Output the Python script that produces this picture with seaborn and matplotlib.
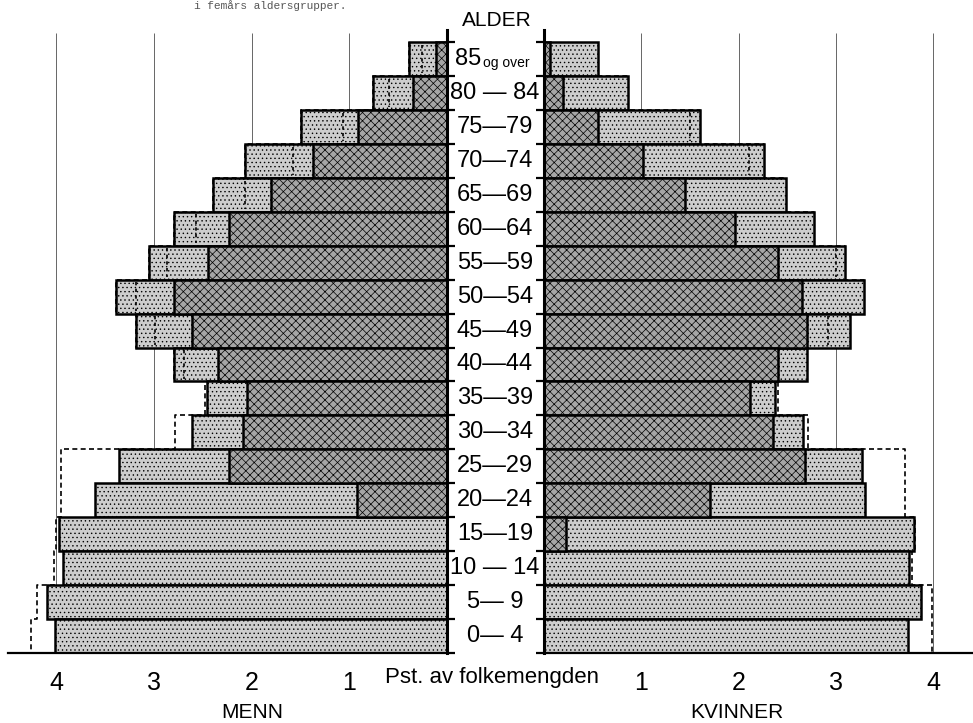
import numpy as np
import matplotlib
matplotlib.use("Agg")
import matplotlib.pyplot as plt
import matplotlib.transforms as mtransforms
import seaborn as sns

# ------------------------------------------------------
# Data (percent of population), top row = oldest group
# ------------------------------------------------------
age_groups = ["85+", "80-84", "75-79", "70-74", "65-69", "60-64", "55-59", "50-54",
              "45-49", "40-44", "35-39", "30-34", "25-29", "20-24", "15-19",
              "10-14", "5-9", "0-4"]
age_labels = ["85", "80 \u2014 84", "75\u201479", "70\u201474", "65\u201469", "60\u201464",
              "55\u201459", "50\u201454", "45\u201449", "40\u201444", "35\u201439", "30\u201434",
              "25\u201429", "20\u201424", "15\u201419", "10 \u2014 14", "5\u2014 9", "0\u2014 4"]

men_total = [0.39, 0.76, 1.49, 2.07, 2.39, 2.79, 3.05, 3.39, 3.18, 2.79,
             2.46, 2.61, 3.36, 3.60, 3.97, 3.93, 4.09, 4.01]
men_dark = [0.11, 0.35, 0.91, 1.37, 1.80, 2.23, 2.45, 2.79, 2.61, 2.34,
            2.05, 2.09, 2.23, 0.92, 0.0, 0.0, 0.0, 0.0]
men_prev = [0.39, 0.76, 1.49, 2.07, 2.39, 2.79, 3.05, 3.39, 3.18, 2.79,
            2.48, 2.78, 3.95, 3.95, 4.00, 4.02, 4.20, 4.26]
men_inner = [0.26, 0.59, 1.06, 1.58, 2.07, 2.57, 2.87, 3.18, 2.99, 2.69,
             np.nan, np.nan, np.nan, np.nan, np.nan, np.nan, np.nan, np.nan]

women_total = [0.55, 0.86, 1.60, 2.26, 2.49, 2.78, 3.09, 3.29, 3.14, 2.70,
               2.37, 2.66, 3.27, 3.30, 3.80, 3.75, 3.87, 3.74]
women_dark = [0.06, 0.20, 0.55, 1.02, 1.45, 1.96, 2.40, 2.65, 2.70, 2.40,
              2.12, 2.35, 2.68, 1.71, 0.23, 0.0, 0.0, 0.0]
women_prev = [0.55, 0.86, 1.60, 2.26, 2.49, 2.78, 3.09, 3.29, 3.14, 2.70,
              2.40, 2.71, 3.71, 3.71, 3.81, 3.78, 3.99, 3.99]
women_inner = [np.nan, np.nan, 1.50, 2.11, np.nan, np.nan, 3.00, np.nan, 2.92, np.nan,
               np.nan, np.nan, np.nan, np.nan, np.nan, np.nan, np.nan, np.nan]

x_ticks = [0, 1, 2, 3, 4]
x_tick_labels = ["", "1", "2", "3", "4"]

LIGHT = "#cdcdcd"
DARK = "#a6a6a6"

sns.set_style("white")
plt.rcParams["font.family"] = ["Liberation Sans", "DejaVu Sans"]
plt.rcParams["text.color"] = "black"
plt.rcParams["xtick.color"] = "black"
plt.rcParams["ytick.color"] = "black"
plt.rcParams["axes.edgecolor"] = "black"
plt.rcParams["hatch.linewidth"] = 0.5

W, H = 973, 723
fig = plt.figure(figsize=(W / 100, H / 100), dpi=100)

def fx(px):
    return px / W

ax_bottom = (H - 653) / H
ax_height = (653 - 30) / H
axL = fig.add_axes([fx(8), ax_bottom, fx(447 - 8), ax_height])
axR = fig.add_axes([fx(544), ax_bottom, fx(973 - 544), ax_height])


def draw_panel(ax, total, dark, prev, inner, xmax, side):
    ax.vlines([1, 2, 3, 4], 17.5, -0.78, color="#666666", lw=0.7, zorder=0.2)

    # dashed outline of the comparison year
    xs, ys = [], []
    for k, v in enumerate(prev):
        xs += [v, v]
        ys += [k - 0.5, k + 0.5]
    ax.plot(xs, ys, ls=(0, (3, 2)), color="black", lw=1.2, zorder=0.5)

    sns.barplot(x=total, y=age_groups, order=age_groups, orient="h", width=1,
                color=LIGHT, saturation=1, edgecolor="black", linewidth=1.8, ax=ax)
    sns.barplot(x=dark, y=age_groups, order=age_groups, orient="h", width=1,
                color=DARK, saturation=1, edgecolor="black", linewidth=1.8, ax=ax)
    for p in ax.patches[:len(total)]:
        p.set_hatch("....")
    for p in ax.patches[len(total):]:
        p.set_hatch("xxxx")

    for k, v in enumerate(inner):
        if not np.isnan(v):
            ax.vlines(v, k - 0.42, k + 0.42, color="black", lw=1.2,
                      linestyles=(0, (2, 2)), zorder=5)

    ax.set_ylim(17.5, -0.854)
    ax.set_yticks(np.arange(-0.5, 18, 1))
    ax.set_yticklabels([])
    ax.set_ylabel("")
    ax.set_xlabel("")
    ax.set_xticks(x_ticks)
    ax.set_xticklabels(x_tick_labels, fontsize=18)
    ax.set_xticks(np.arange(0.5, 4.5, 1), minor=True)
    ax.tick_params(axis="x", which="major", direction="out", length=9, width=1.4, pad=4)
    ax.tick_params(axis="x", which="minor", direction="out", length=6, width=1.2)
    ax.tick_params(axis="y", direction="out", length=6, width=1.6)
    for s in ax.spines.values():
        s.set_visible(False)
    ax.spines["bottom"].set_visible(True)
    ax.spines["bottom"].set_linewidth(1.6)
    ax.spines[side].set_visible(True)
    ax.spines[side].set_linewidth(2.2)
    if side == "right":
        ax.set_xlim(xmax, 0)
        ax.yaxis.tick_right()
    else:
        ax.set_xlim(0, xmax)
        ax.yaxis.tick_left()


draw_panel(axL, men_total, men_dark, men_prev, men_inner, (447 - 8) / 97.7, "right")
draw_panel(axR, women_total, women_dark, women_prev, women_inner, (973 - 544) / 97.3, "left")

# age labels between the panels
trans = mtransforms.blended_transform_factory(fig.transFigure, axL.transData)
for k, lab in enumerate(age_labels):
    if k == 0:
        fig.text(fx(481), k, lab, transform=trans, ha="right", va="center", fontsize=17)
        fig.text(fx(483), k + 0.12, "og over", transform=trans, ha="left", va="center", fontsize=10)
    else:
        fig.text(fx(495), k, lab, transform=trans, ha="center", va="center", fontsize=17)

fig.text(fx(497), 1 - 20 / H, "ALDER", ha="center", va="center", fontsize=15)
fig.text(fx(492), 1 - 677 / H, "Pst. av folkemengden", ha="center", va="center", fontsize=16)
fig.text(fx(252), 1 - 712 / H, "MENN", ha="center", va="center", fontsize=15)
fig.text(fx(737), 1 - 712 / H, "KVINNER", ha="center", va="center", fontsize=15)
fig.text(fx(270), 1 - 6 / H, "i femårs aldersgrupper.", ha="center", va="center",
         fontsize=8, color="#555555", family=["Liberation Mono", "DejaVu Sans Mono"])

fig.savefig("out.png", dpi=100)
